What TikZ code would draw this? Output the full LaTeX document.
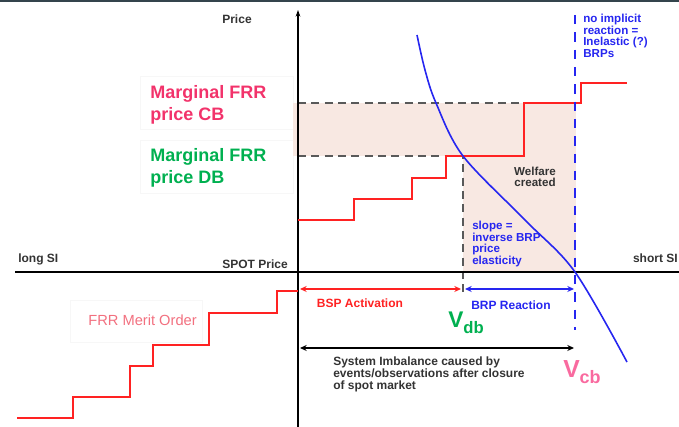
\documentclass[tikz,border=0pt]{standalone}
\usepackage{fontspec}
\setmainfont{Liberation Sans}
\usetikzlibrary{arrows.meta}
\definecolor{topbar}{HTML}{34444C}
\definecolor{welfare}{HTML}{F8E8E2}
\definecolor{redline}{HTML}{FF2222}
\definecolor{bluec}{HTML}{2626F0}
\definecolor{cbpink}{HTML}{F2336B}
\definecolor{dbgreen}{HTML}{00B050}
\definecolor{vcbpink}{HTML}{F96A9F}
\definecolor{merit}{HTML}{F2707F}
\definecolor{darktext}{HTML}{333333}
\tikzset{
  axisline/.style={line width=1.1pt, black},
  redstep/.style={line width=1.5pt, redline},
  bluecurve/.style={line width=1.2pt, bluec},
  bluedash/.style={line width=1.4pt, bluec, dash pattern=on 7pt off 6pt},
  graydash/.style={line width=0.9pt, black!65, dash pattern=on 6pt off 4pt},
  dbl/.style={line width=1.1pt, {Stealth[length=5pt,width=4.5pt]}-{Stealth[length=5pt,width=4.5pt]}},
  small/.style={font=\fontsize{9pt}{9pt}\selectfont\bfseries, inner sep=0pt, text=darktext},
  smallml/.style={font=\fontsize{8.7pt}{8.6pt}\selectfont\bfseries, inner sep=0pt, align=left},
  big/.style={font=\fontsize{13.5pt}{16.5pt}\selectfont\bfseries, inner sep=0pt, align=left},
  faintbox/.style={draw=black!3, line width=0.4pt},
}
\begin{document}
\begin{tikzpicture}[x=0.75pt,y=-0.75pt]
\useasboundingbox (0,0) rectangle (679,427);
\clip (0,0) rectangle (679,427);
\fill[topbar] (0,0) rectangle (679,2);
% faint label boxes
\draw[faintbox] (140,76) rectangle (293,129);
\draw[faintbox] (140,140) rectangle (293,193);
\draw[faintbox] (70,300) rectangle (202,342);
% welfare shading
\fill[welfare] (293,103) rectangle (576,156);
\fill[welfare] (463,156) rectangle (576,272);
% gray dashed guides
\coordinate (g1) at (298,103); \coordinate (g2) at (532,103);
\coordinate (g3) at (298,156); \coordinate (g4) at (463,156); \coordinate (g5) at (463,292);
\draw[graydash] (g1) -- (g2);
\draw[graydash] (g3) -- (g4) -- (g5);
% axes
\coordinate (xl) at (15,272); \coordinate (xr) at (679,272);
\coordinate (yb) at (298,427); \coordinate (yt) at (298,10);
\draw[axisline] (xl) -- (xr);
\draw[axisline,-{Stealth[length=5pt,width=3.5pt]}] (yb) -- (yt);
% red merit order steps
\draw[redstep] (298,220) -| (354,199) -| (412,178) -| (446,156) -| (524,103) -| (581,83) -- (627,83);
\draw[redstep] (17,418) -| (73,397) -| (130,366) -| (153,345) -| (209,313) -| (277,291) -- (298,291);
% blue demand curve
\draw[bluecurve] plot[smooth,tension=0.55] coordinates {(417,35) (425,70) (436,103) (463,156) (525,220) (575,272) (627,362)};
% blue dashed vertical
\coordinate (bd1) at (575,15); \coordinate (bd2) at (575,330);
\draw[bluedash] (bd1) -- (bd2);
% arrows
\coordinate (a0) at (300,289); \coordinate (a1) at (461,289);
\coordinate (b0) at (465,289); \coordinate (b1) at (574,289);
\coordinate (c0) at (300,348); \coordinate (c1) at (574,348);
\draw[dbl, redline] (a0) -- (a1);
\draw[dbl, bluec] (b0) -- (b1);
\draw[dbl, black] (c0) -- (c1);
% texts
\node[small] (price) at (237,19) {Price};
\node[small, anchor=west] (longsi) at (18,259) {long SI};
\node[small, anchor=east] (spot) at (288,264) {SPOT Price};
\node[small, anchor=east] (shortsi) at (678,258) {short SI};
\node[big, text=cbpink, anchor=north west] (mcb) at (150,85) {Marginal FRR\\price CB};
\node[big, text=dbgreen, anchor=north west] (mdb) at (150,148) {Marginal FRR\\price DB};
\node[inner sep=0pt, font=\fontsize{11pt}{11pt}\selectfont, text=merit, anchor=east] (merit) at (197,320) {FRR Merit Order};
\node[smallml, align=center, text=darktext] (welf) at (535,177) {Welfare\\created};
\node[smallml, text=bluec, anchor=north west] (slope) at (472,221) {slope =\\inverse BRP\\price\\elasticity};
\node[smallml, text=bluec, anchor=north west] (noimpl) at (583,14) {no implicit\\reaction =\\Inelastic (?)\\BRPs};
\node[small, text=redline] (bsp) at (360,303) {BSP Activation};
\node[small, text=bluec] (brp) at (511,305) {BRP Reaction};
\node[smallml, text=darktext, anchor=north west, font=\fontsize{9pt}{9pt}\selectfont\bfseries] (sysimb) at (333,357) {System Imbalance caused by\\events/observations after closure\\of spot market};
\node[inner sep=0pt, anchor=base west, text=dbgreen, font=\bfseries] (vdb) at (448,328) {\fontsize{17pt}{17pt}\selectfont V\raisebox{-4pt}{\fontsize{12.5pt}{12.5pt}\selectfont db}};
\node[inner sep=0pt, anchor=base west, text=vcbpink, font=\bfseries] (vcb) at (563,378) {\fontsize{18.5pt}{18.5pt}\selectfont V\raisebox{-4pt}{\fontsize{13.5pt}{13.5pt}\selectfont cb}};
\end{tikzpicture}
\end{document}
